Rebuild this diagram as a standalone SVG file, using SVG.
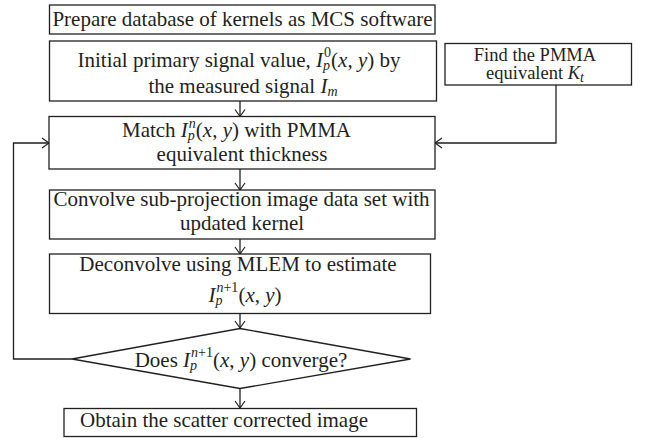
<svg xmlns="http://www.w3.org/2000/svg" width="653" height="438" viewBox="0 0 653 438">
<style>
.box{fill:#fff;stroke:#231f20;stroke-width:1.3}
.t{font-family:"Liberation Serif","Times New Roman",serif;font-size:21px;fill:#231f20;text-anchor:middle}
.s{font-family:"Liberation Serif","Times New Roman",serif;font-size:18.5px;fill:#231f20;text-anchor:middle}
.i{font-style:italic}
.sc{font-size:14px}
.c{fill:none;stroke:#231f20;stroke-width:1.3}
</style>
<defs>
<marker id="ah" markerWidth="12" markerHeight="12" refX="10" refY="6" orient="auto" markerUnits="userSpaceOnUse">
<path d="M3,1 L10,6 L3,11" fill="none" stroke="#231f20" stroke-width="1.2"/>
</marker>
</defs>
<rect width="653" height="438" fill="#fff"/>
<g id="connectors">
<line class="c" x1="240" y1="101" x2="240" y2="116.5" marker-end="url(#ah)"/>
<line class="c" x1="240" y1="169" x2="240" y2="190" marker-end="url(#ah)"/>
<line class="c" x1="240" y1="239" x2="240" y2="254" marker-end="url(#ah)"/>
<line class="c" x1="240" y1="313" x2="240" y2="328" marker-end="url(#ah)"/>
<line class="c" x1="240" y1="388" x2="240" y2="408" marker-end="url(#ah)"/>
<polyline class="c" points="72,359 13.5,359 13.5,143 49,143" marker-end="url(#ah)"/>
<polyline class="c" points="556,85 556,143 435,143" marker-end="url(#ah)"/>
</g>
<g id="n1">
<rect class="box" x="49.5" y="5" width="385.5" height="29"/>
<text class="t" x="242.5" y="25.5">Prepare database of kernels as MCS software</text>
</g>
<g id="n2">
<rect class="box" x="49.5" y="41" width="387" height="60"/>
<text class="t" x="239" y="66.5">Initial primary signal value, <tspan class="i">I</tspan><tspan class="sc" dx="1" dy="-9.5">0</tspan><tspan class="i sc" dx="-8" dy="12.5">p</tspan><tspan dx="1" dy="-3">(</tspan><tspan class="i">x</tspan>, <tspan class="i">y</tspan>) by</text>
<text class="t" x="243" y="93">the measured signal <tspan class="i">I</tspan><tspan class="i sc" dy="3">m</tspan></text>
</g>
<g id="n3">
<rect class="box" x="49" y="116.5" width="386" height="52.5"/>
<text class="t" x="236.5" y="137">Match <tspan class="i">I</tspan><tspan class="i sc" dx="1" dy="-9.5">n</tspan><tspan class="i sc" dx="-8" dy="12.5">p</tspan><tspan dx="1" dy="-3">(</tspan><tspan class="i">x</tspan>, <tspan class="i">y</tspan>) with PMMA</text>
<text class="t" x="242" y="160.5">equivalent thickness</text>
</g>
<g id="n4">
<rect class="box" x="49.5" y="190" width="385.5" height="49"/>
<text class="t" x="241.5" y="205.5">Convolve sub-projection image data set with</text>
<text class="t" x="242" y="230">updated kernel</text>
</g>
<g id="n5">
<rect class="box" x="49.5" y="254" width="381" height="59.5"/>
<text class="t" x="238" y="270.5">Deconvolve using MLEM to estimate</text>
<text class="t" x="245" y="301.5"><tspan class="i">I</tspan><tspan class="sc" dx="1" dy="-9.5"><tspan class="i">n</tspan>+1</tspan><tspan class="i sc" dx="-23" dy="12.5">p</tspan><tspan dx="16" dy="-3">(</tspan><tspan class="i">x</tspan>, <tspan class="i">y</tspan>)</text>
</g>
<g id="n6">
<polygon class="box" points="240,328.5 410.5,359 240,388.5 72,359"/>
<text class="t" x="241" y="366.5">Does <tspan class="i">I</tspan><tspan class="sc" dx="1" dy="-9.5"><tspan class="i">n</tspan>+1</tspan><tspan class="i sc" dx="-23" dy="12.5">p</tspan><tspan dx="16" dy="-3">(</tspan><tspan class="i">x</tspan>, <tspan class="i">y</tspan>) converge?</text>
</g>
<g id="n7">
<rect class="box" x="64" y="408.5" width="352.5" height="28"/>
<text class="t" x="224" y="427">Obtain the scatter corrected image</text>
</g>
<g id="n8">
<rect class="box" x="445" y="43.5" width="186.5" height="41.5"/>
<text class="s" x="535" y="61">Find the PMMA</text>
<text class="s" x="535" y="79">equivalent <tspan class="i">K</tspan><tspan class="i sc" dy="3">t</tspan></text>
</g>
</svg>
